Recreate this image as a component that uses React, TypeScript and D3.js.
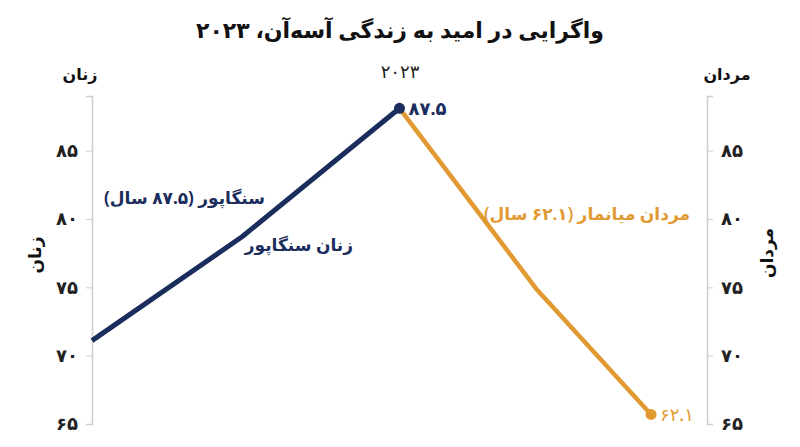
import { useEffect, useRef } from "react";
import * as d3 from "d3";

const title = "واگرایی در امید به زندگی آسه‌آن، ۲۰۲۳";
const yearLabel = "۲۰۲۳";
const yTicks = [65, 70, 75, 80, 85];
const tickLabels = ["۶۵", "۷۰", "۷۵", "۸۰", "۸۵"];

// position along the chart (0 = left axis, 100 = right axis)
const womenX = [0, 24.4, 50];
const womenY = [71.1, 78.7, 88.1];
const menX = [50, 72.4, 90.9];
const menY = [88.1, 74.8, 65.7];

const womenPeakLabel = "۸۷.۵";
const menLowLabel = "۶۲.۱";

const navy = "#1b2d5c";
const orange = "#e19a32";
const font = "'Noto Sans', 'DejaVu Sans', sans-serif";

export default function App() {
  const svgRef = useRef<SVGSVGElement | null>(null);

  useEffect(() => {
    const width = 800;
    const height = 447;
    const svg = d3.select(svgRef.current);
    svg.selectAll("*").remove();
    svg.attr("width", width).attr("height", height).style("font-family", font);

    const x = d3.scaleLinear().domain([0, 100]).range([92, 707]);
    const y = d3.scaleLinear().domain([65, 89]).range([424, 96]);

    // title
    svg.append("text")
      .attr("x", width / 2).attr("y", 38)
      .attr("text-anchor", "middle")
      .attr("font-size", 22).attr("font-weight", 700)
      .attr("fill", "#111")
      .text(title);

    svg.append("text")
      .attr("x", 400).attr("y", 78)
      .attr("text-anchor", "middle")
      .attr("font-size", 18).attr("font-weight", 500)
      .attr("fill", "#222")
      .text(yearLabel);

    // axes
    const fmt = (d) => tickLabels[yTicks.indexOf(d)];
    const left = svg.append("g").attr("transform", `translate(${x(0)},0)`)
      .call(d3.axisLeft(y).tickValues(yTicks).tickFormat(fmt).tickSize(6).tickPadding(8));
    const right = svg.append("g").attr("transform", `translate(${x(100)},0)`)
      .call(d3.axisRight(y).tickValues(yTicks).tickFormat(fmt).tickSize(6).tickPadding(8));
    [left, right].forEach((g) => {
      g.select(".domain").attr("stroke", "#cfcfcf").attr("stroke-width", 1.5);
      g.selectAll(".tick line").attr("stroke", "#cfcfcf");
      g.selectAll(".tick text")
        .attr("font-size", 18).attr("font-weight", 600)
        .attr("fill", "#222").style("font-family", font);
    });

    // axis titles
    svg.append("text").attr("x", 80).attr("y", 80).attr("text-anchor", "middle")
      .attr("font-size", 16).attr("font-weight", 700).attr("fill", "#111").text("زنان");
    svg.append("text").attr("x", 727).attr("y", 80).attr("text-anchor", "middle")
      .attr("font-size", 16).attr("font-weight", 700).attr("fill", "#111").text("مردان");
    svg.append("text")
      .attr("transform", "translate(35,255) rotate(-90)")
      .attr("text-anchor", "middle").attr("dy", "0.35em")
      .attr("font-size", 17).attr("font-weight", 700).attr("fill", "#111").text("زنان");
    svg.append("text")
      .attr("transform", "translate(767,253) rotate(-90)")
      .attr("text-anchor", "middle").attr("dy", "0.35em")
      .attr("font-size", 17).attr("font-weight", 700).attr("fill", "#111").text("مردان");

    const line = d3.line<number>().x((d) => x(d[0])).y((d) => y(d[1]));
    const womenPts = womenX.map((v, i) => [v, womenY[i]]);
    const menPts = menX.map((v, i) => [v, menY[i]]);

    svg.append("path").attr("d", line(menPts)).attr("fill", "none")
      .attr("stroke", orange).attr("stroke-width", 4.5).attr("stroke-linejoin", "round");
    svg.append("path").attr("d", line(womenPts)).attr("fill", "none")
      .attr("stroke", navy).attr("stroke-width", 5).attr("stroke-linejoin", "round");

    const wEnd = womenPts[womenPts.length - 1];
    const mEnd = menPts[menPts.length - 1];
    svg.append("circle").attr("cx", x(wEnd[0])).attr("cy", y(wEnd[1])).attr("r", 5.5).attr("fill", navy);
    svg.append("circle").attr("cx", x(mEnd[0])).attr("cy", y(mEnd[1])).attr("r", 5.5).attr("fill", orange);

    svg.append("text").attr("x", x(wEnd[0]) + 9).attr("y", y(wEnd[1])).attr("dy", "0.35em")
      .attr("font-size", 18).attr("font-weight", 700).attr("fill", navy)
      .attr("direction", "ltr").text(womenPeakLabel);
    svg.append("text").attr("x", x(mEnd[0]) + 9).attr("y", y(mEnd[1])).attr("dy", "0.35em")
      .attr("font-size", 18).attr("font-weight", 500).attr("fill", orange)
      .attr("direction", "ltr").text(menLowLabel);

    // series notes (rtl: "start" anchors the right edge)
    svg.append("text").attr("x", 265).attr("y", 204).attr("text-anchor", "start")
      .attr("direction", "rtl")
      .attr("font-size", 17).attr("font-weight", 700).attr("fill", navy)
      .text("سنگاپور (۸۷.۵ سال)");
    svg.append("text").attr("x", 353).attr("y", 251).attr("text-anchor", "start")
      .attr("direction", "rtl")
      .attr("font-size", 17).attr("font-weight", 700).attr("fill", navy)
      .text("زنان سنگاپور");
    svg.append("text").attr("x", 690).attr("y", 220).attr("text-anchor", "start")
      .attr("direction", "rtl")
      .attr("font-size", 17).attr("font-weight", 600).attr("fill", orange)
      .text("مردان میانمار (۶۲.۱ سال)");
  }, []);

  return <svg ref={svgRef} style={{ display: "block", margin: -8 }} />;
}
